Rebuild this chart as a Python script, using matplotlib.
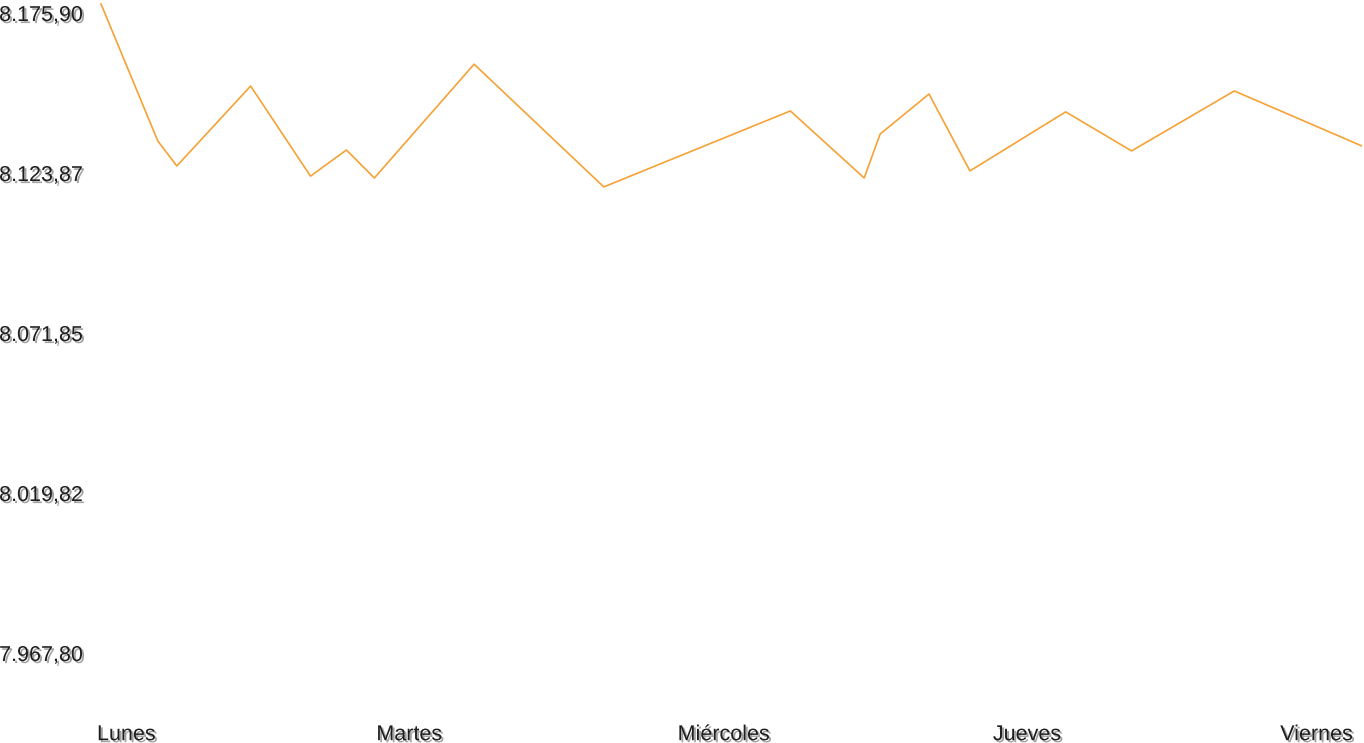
import matplotlib
matplotlib.use('Agg')
import matplotlib.pyplot as plt
import matplotlib.patheffects as pe
from matplotlib.transforms import ScaledTranslation

# values (x in arbitrary time units)
x_pos = [1, 58, 77, 151, 211, 247, 275, 375, 505, 692, 766, 782, 831, 872, 968, 1034, 1137, 1265]
values = [8175.6, 8131.0, 8122.9, 8148.9, 8119.6, 8128.1, 8119.0, 8156.0, 8116.1, 8140.8, 8119.0, 8133.3, 8146.3, 8121.3, 8140.5, 8127.8, 8147.3, 8129.4]

day_ticks = [-3, 277, 579, 895, 1183]
day_labels = ['Lunes', 'Martes', 'Miércoles', 'Jueves', 'Viernes']

y_ticks = [8175.90, 8123.87, 8071.85, 8019.82, 7967.80]
y_labels = ['8.175,90', '8.123,87', '8.071,85', '8.019,82', '7.967,80']

plt.rcParams['font.family'] = ['Liberation Sans', 'DejaVu Sans']

fig = plt.figure(figsize=(13.64, 7.43), dpi=100)
ax = fig.add_axes([97 / 1364, 23 / 743, 1265 / 1364, 717 / 743])

ax.plot(x_pos, values, color='#f5a236', lw=1.2)

ax.set_xlim(0, 1265)
ax.set_ylim(7942.76, 8175.90)

ax.set_xticks(day_ticks)
ax.set_xticklabels(day_labels)
ax.set_yticks(y_ticks)
ax.set_yticklabels(y_labels)

shadow = [pe.withSimplePatchShadow(offset=(1.5, -1.5), shadow_rgbFace='#999999', alpha=0.9)]
ax.tick_params(axis='y', length=0, pad=70.5, labelsize=15.5, labelcolor='#1e1e1e')
ax.tick_params(axis='x', length=0, pad=3, labelsize=15.5, labelcolor='#1e1e1e')
down = ScaledTranslation(0, -2 / 100, fig.dpi_scale_trans)
for lab in ax.get_yticklabels():
    lab.set_horizontalalignment('left')
    lab.set_verticalalignment('top')
    lab.set_transform(lab.get_transform() + down)
    lab.set_path_effects(shadow)
for lab in ax.get_xticklabels():
    lab.set_horizontalalignment('left')
    lab.set_path_effects(shadow)

for s in ax.spines.values():
    s.set_visible(False)

fig.savefig('out.png', dpi=100)
